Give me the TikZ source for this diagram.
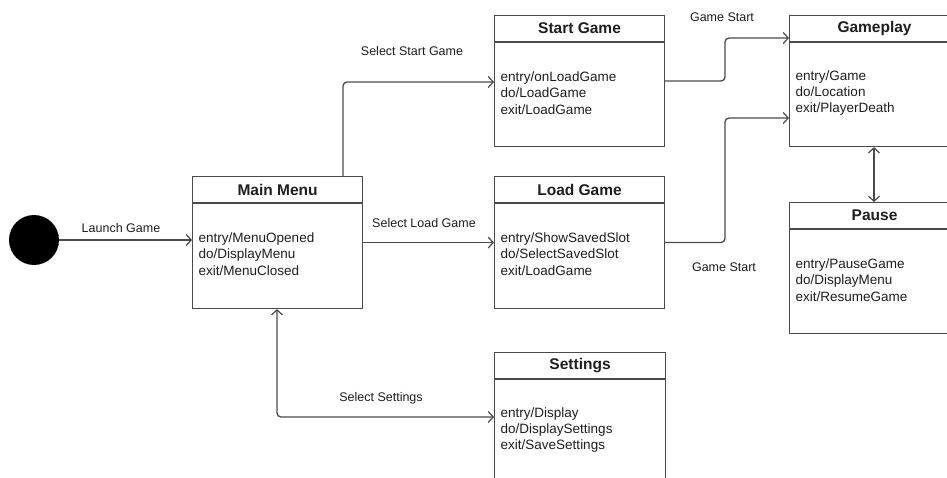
\documentclass[tikz,border=0pt]{standalone}
\usepackage{fontspec}
\setmainfont{Liberation Sans}
\usetikzlibrary{arrows.meta}
\definecolor{linec}{HTML}{4A4A4A}
\definecolor{txtc}{HTML}{1E1E1E}
\tikzset{
  box/.style={draw=linec, line width=1.1pt, inner sep=0pt, anchor=north west},
  ttl/.style={font=\fontsize{15.5}{18}\selectfont\bfseries, text=txtc, inner sep=0pt},
  body/.style={font=\fontsize{13.5}{16.3}\selectfont, text=txtc, align=left, inner sep=0pt, anchor=west},
  lbl/.style={font=\fontsize{12.5}{15}\selectfont, text=txtc, inner sep=0pt},
  conn/.style={draw=linec, line width=1.3pt, rounded corners=4pt,
    -{Straight Barb[length=5pt,width=11pt,line width=1.2pt]}},
  dconn/.style={draw=linec, line width=1.3pt, rounded corners=4pt,
    {Straight Barb[length=5pt,width=11pt,line width=1.2pt]}-{Straight Barb[length=5pt,width=11pt,line width=1.2pt]}}
}
\newcommand\mkstate[7]{%
  \node[box, minimum width=#4pt, minimum height=#5pt] (#1) at (#2,#3) {};
  \draw[draw=linec, line width=1.1pt] ([yshift=-27pt]#1.north west) -- ([yshift=-27pt]#1.north east);
  \node[ttl] (#1-t) at ([yshift=-13.5pt]#1.north) {#6};
  \node[body] (#1-b) at ([xshift=6.5pt,yshift=-78pt]#1.north west) {#7};
}
\begin{document}
\begin{tikzpicture}[x=1pt,y=-1pt]
\useasboundingbox[fill=white] (0,0) rectangle (947,478);

\node[circle, fill=black, minimum size=50pt, inner sep=0pt] (init) at (34,240) {};

\mkstate{mm}{192}{176}{170}{132}{Main Menu}{entry/MenuOpened\\do/DisplayMenu\\exit/MenuClosed}
\mkstate{sg}{494}{15}{170}{131}{Start Game}{entry/onLoadGame\\do/LoadGame\\exit/LoadGame}
\mkstate{lg}{494}{176}{170}{132}{Load Game}{entry/ShowSavedSlot\\do/SelectSavedSlot\\exit/LoadGame}
\mkstate{gp}{789}{15}{170}{131}{Gameplay}{entry/Game\\do/Location\\exit/PlayerDeath}
\mkstate{pa}{789}{202}{170}{131}{Pause}{entry/PauseGame\\do/DisplayMenu\\exit/ResumeGame}
\mkstate{st}{494}{352}{171}{140}{Settings}{entry/Display\\do/DisplaySettings\\exit/SaveSettings}

\coordinate (j1) at (725,0);

\draw[conn] (init.east) -- (init.east -| mm.west);
\draw[conn] ([xshift=151pt]mm.north west) |- ([yshift=-67pt]sg.north west);
\draw[conn] (mm.east) -- (lg.west);
\draw[conn] (sg.east) -- (sg.east -| j1) |- ([yshift=-23pt]gp.north west);
\draw[conn] (lg.east) -- (lg.east -| j1) |- ([yshift=-103pt]gp.north west);
\draw[dconn] ([xshift=85pt]gp.south west) -- ([xshift=85pt]pa.north west);
\draw[dconn] ([xshift=85pt]mm.south west) |- ([yshift=-65pt]st.north west);

\node[lbl] (l1) at (121,228) {Launch Game};
\node[lbl] (l2) at (412,51) {Select Start Game};
\node[lbl] (l3) at (424,223) {Select Load Game};
\node[lbl] (l4) at (722,17) {Game Start};
\node[lbl] (l5) at (724,267) {Game Start};
\node[lbl] (l6) at (381,398) {Select Settings};
\end{tikzpicture}
\end{document}
